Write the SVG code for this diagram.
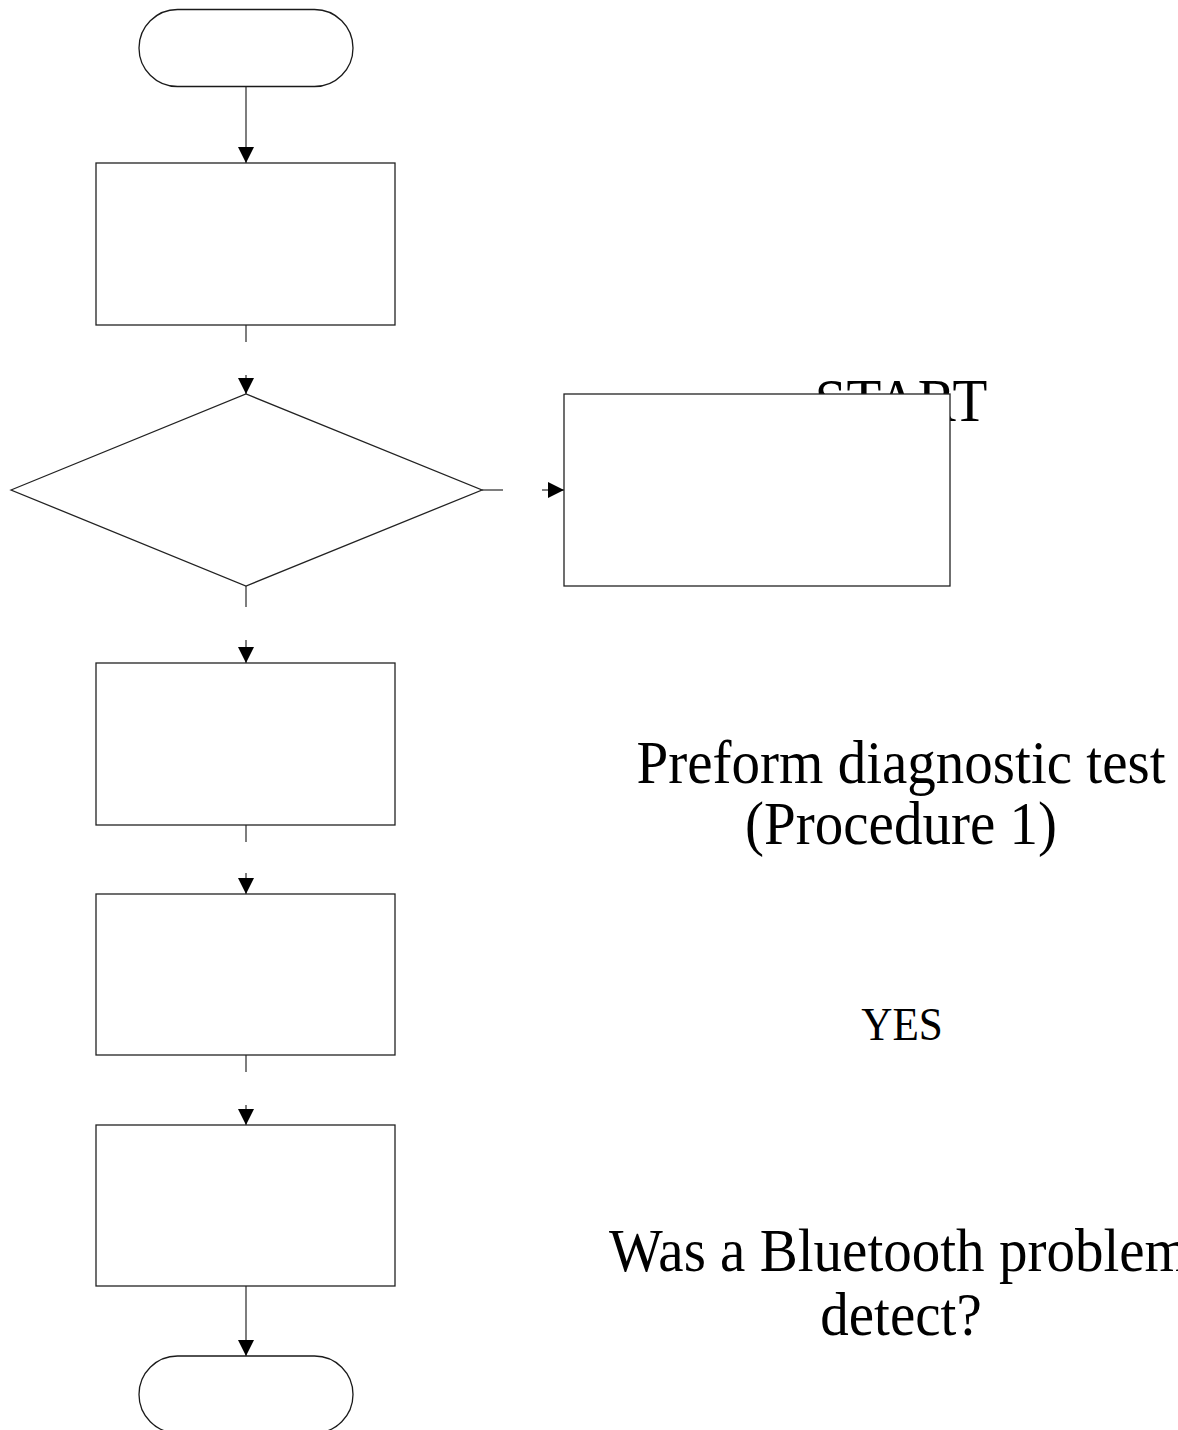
<svg xmlns="http://www.w3.org/2000/svg" width="1178" height="1430" viewBox="0 0 1178 1430">
  <style>
    .shape { fill: #ffffff; stroke: #222222; stroke-width: 1.3; }
    .term { fill: #ffffff; stroke: #1a1a1a; stroke-width: 1.3; }
    .conn { fill: none; stroke: #5e5e5e; stroke-width: 1.6; }
    .label { font-family: "Liberation Serif", "Times New Roman", serif; fill: #000000; text-anchor: middle; }
    .big { font-size: 62px; }
    .small { font-size: 47px; }
  </style>
  <defs>
    <marker id="arrow" markerUnits="userSpaceOnUse" markerWidth="16" markerHeight="16" refX="16" refY="8" orient="auto">
      <path d="M0,0 L16,8 L0,16 Z" fill="#000000"/>
    </marker>
  </defs>
  <rect width="1178" height="1430" fill="#ffffff"/>

  <!-- Labels -->
  <g id="labels">
    <text class="label big" transform="translate(901,421) scale(0.92,1)">START</text>
    <text class="label big" transform="translate(901,783) scale(0.92,1)">Preform diagnostic test</text>
    <text class="label big" transform="translate(901,844) scale(0.92,1)">(Procedure 1)</text>
    <text class="label small" transform="translate(902,1040) scale(0.92,1)">YES</text>
    <text class="label big" transform="translate(899,1271) scale(0.92,1)">Was a Bluetooth problem</text>
    <text class="label big" transform="translate(901,1335) scale(0.92,1)">detect?</text>
  </g>

  <!-- Connectors -->
  <g id="connectors">
    <line class="conn" x1="246" y1="87" x2="246" y2="163" marker-end="url(#arrow)"/>
    <line class="conn" x1="246" y1="325" x2="246" y2="342"/>
    <line class="conn" x1="246" y1="375" x2="246" y2="394" marker-end="url(#arrow)"/>
    <line class="conn" x1="482" y1="490" x2="503" y2="490"/>
    <line class="conn" x1="542" y1="490" x2="564" y2="490" marker-end="url(#arrow)"/>
    <line class="conn" x1="246" y1="586" x2="246" y2="607"/>
    <line class="conn" x1="246" y1="640" x2="246" y2="663" marker-end="url(#arrow)"/>
    <line class="conn" x1="246" y1="825" x2="246" y2="842"/>
    <line class="conn" x1="246" y1="873" x2="246" y2="894" marker-end="url(#arrow)"/>
    <line class="conn" x1="246" y1="1055" x2="246" y2="1072"/>
    <line class="conn" x1="246" y1="1105" x2="246" y2="1125" marker-end="url(#arrow)"/>
    <line class="conn" x1="246" y1="1286" x2="246" y2="1356" marker-end="url(#arrow)"/>
  </g>

  <!-- Nodes -->
  <g id="start">
    <rect class="term" x="139" y="9.5" width="214" height="77" rx="38.5" ry="38.5"/>
  </g>
  <g id="step1">
    <rect class="shape" x="96" y="163" width="299" height="162"/>
  </g>
  <g id="decision">
    <polygon class="shape" points="11,490 246,394 482,490 246,586"/>
  </g>
  <g id="side-box">
    <rect class="shape" x="564" y="394" width="386" height="192"/>
  </g>
  <g id="step2">
    <rect class="shape" x="96" y="663" width="299" height="162"/>
  </g>
  <g id="step3">
    <rect class="shape" x="96" y="894" width="299" height="161"/>
  </g>
  <g id="step4">
    <rect class="shape" x="96" y="1125" width="299" height="161"/>
  </g>
  <g id="end">
    <rect class="term" x="139" y="1356" width="214" height="77" rx="38.5" ry="38.5"/>
  </g>
</svg>
